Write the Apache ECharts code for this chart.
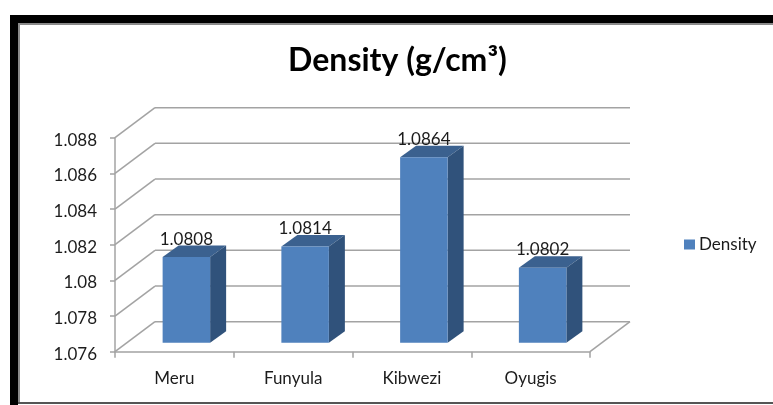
<!DOCTYPE html>
<html>
<head>
<meta charset="utf-8">
<style>
  html, body { margin: 0; padding: 0; background: #fff; }
  #chart { width: 773px; height: 405px; }
</style>
<script src="https://cdn.jsdelivr.net/npm/echarts@6/dist/echarts.min.js"></script>
</head>
<body>
<div id="chart"></div>
<script>
const categories = ['Meru', 'Funyula', 'Kibwezi', 'Oyugis'];
const densityValues = [1.0808, 1.0814, 1.0864, 1.0802];
const valueLabels = ['1.0808', '1.0814', '1.0864', '1.0802'];
const gridTicks = [1.076, 1.078, 1.08, 1.082, 1.084, 1.086, 1.088];

// fake 3d projection, excel style
const wallDepth = [40, -30];
const barShift = [12, -9];
const barSide = [16, -11.5];
const gridColor = '#a3a3a3';
const textColor = '#1c1c1c';
const fontName = 'Lato';

const chart = echarts.init(document.getElementById('chart'));

function renderWall(params, api) {
    const box = params.coordSys;
    const y = api.coord([0, api.value(0)])[1];
    const left = box.x;
    const right = box.x + box.width;
    const style = { stroke: gridColor, lineWidth: 1.5, fill: null };
    const children = [
        { type: 'line', shape: { x1: left, y1: y, x2: left + wallDepth[0], y2: y + wallDepth[1] }, style: style },
        { type: 'line', shape: { x1: left + wallDepth[0], y1: y + wallDepth[1], x2: right + wallDepth[0], y2: y + wallDepth[1] }, style: style }
    ];
    if (params.dataIndex === 0) {
        children.push({ type: 'line', shape: { x1: right, y1: y, x2: right + wallDepth[0], y2: y + wallDepth[1] }, style: style });
    }
    return { type: 'group', children: children };
}

function renderBar(params, api) {
    const cat = api.value(0);
    const top = api.coord([cat, api.value(1)]);
    const base = api.coord([cat, gridTicks[0]]);
    const w = api.size([1, 0])[0] * 0.4;
    const x1 = top[0] + barShift[0] - w / 2;
    const x2 = x1 + w;
    const y1 = top[1] + barShift[1];
    const y2 = base[1] + barShift[1];
    const dx = barSide[0];
    const dy = barSide[1];
    return {
        type: 'group',
        children: [
            { type: 'polygon', shape: { points: [[x1, y1], [x2, y1], [x2 + dx, y1 + dy], [x1 + dx, y1 + dy]] }, style: { fill: '#3b618f' } },
            { type: 'polygon', shape: { points: [[x2, y1], [x2 + dx, y1 + dy], [x2 + dx, y2 + dy], [x2, y2]] }, style: { fill: '#30527b' } },
            { type: 'rect', shape: { x: x1, y: y1, width: w, height: y2 - y1 }, style: { fill: '#4f81bd' } },
            {
                type: 'text',
                x: x1 + w / 2,
                y: y1 + dy + 2,
                style: { text: valueLabels[params.dataIndex], fill: textColor, font: '17px ' + fontName, textAlign: 'center', textVerticalAlign: 'bottom' }
            }
        ]
    };
}

chart.setOption({
    animation: false,
    backgroundColor: '#fff',
    title: {
        text: 'Density (g/cm³)',
        left: 392.5,
        top: 40,
        textAlign: 'center',
        textStyle: { fontFamily: fontName, fontSize: 32, fontWeight: 'bold', color: '#000' }
    },
    legend: {
        left: 679,
        top: 231,
        data: ['Density'],
        icon: 'rect',
        itemWidth: 11,
        itemHeight: 10,
        itemGap: 4,
        textStyle: { fontFamily: fontName, fontSize: 17, color: textColor, padding: [0, 0, 0, -1] }
    },
    grid: { left: 115, right: 183, top: 137.7, bottom: 53.3 },
    xAxis: {
        type: 'category',
        data: categories,
        axisLine: { lineStyle: { color: gridColor, width: 1.5 } },
        axisTick: { show: true, length: 6, alignWithLabel: false, lineStyle: { color: gridColor, width: 1.5 } },
        axisLabel: { fontFamily: fontName, fontSize: 17, color: textColor, margin: 18 }
    },
    yAxis: {
        type: 'value',
        min: gridTicks[0],
        max: gridTicks[gridTicks.length - 1],
        interval: 0.002,
        axisLine: { show: true, lineStyle: { color: gridColor, width: 1.5 } },
        axisTick: { show: true, length: 5, lineStyle: { color: gridColor, width: 1.5 } },
        splitLine: { show: false },
        axisLabel: {
            margin: 18,
            formatter: v => '{v|' + parseFloat(v.toFixed(3)) + '}',
            rich: {
                v: { fontFamily: fontName, fontSize: 17, color: textColor, padding: [5, 0, 0, 0] }
            }
        }
    },
    series: [
        {
            type: 'custom',
            silent: true,
            clip: false,
            data: gridTicks.map(v => [v]),
            encode: { y: 0 },
            renderItem: renderWall
        },
        {
            name: 'Density',
            type: 'custom',
            clip: false,
            itemStyle: { color: '#4f81bd' },
            data: densityValues.map((v, i) => [i, v]),
            encode: { x: 0, y: 1 },
            renderItem: renderBar
        }
    ],
    graphic: [
        { type: 'rect', shape: { x: 18, y: 23, width: 755, height: 2 }, style: { fill: '#8a8a8a' } },
        { type: 'rect', shape: { x: 18, y: 23, width: 2, height: 380 }, style: { fill: '#8a8a8a' } },
        { type: 'rect', shape: { x: 10, y: 15, width: 763, height: 8 }, style: { fill: '#000' } },
        { type: 'rect', shape: { x: 10, y: 15, width: 8, height: 390 }, style: { fill: '#000' } },
        { type: 'rect', shape: { x: 18, y: 402, width: 755, height: 2 }, style: { fill: '#555' } }
    ]
});
</script>
</body>
</html>
